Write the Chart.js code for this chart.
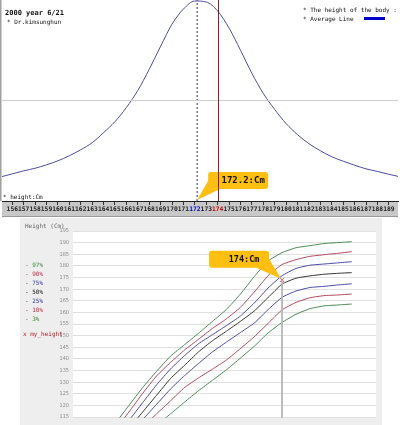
<!DOCTYPE html>
<html>
<head>
<meta charset="utf-8">
<script src="https://cdn.jsdelivr.net/npm/chart.js@4.4.1/dist/chart.umd.min.js"></script>
<style>
  html, body { margin: 0; padding: 0; background: #fff; overflow: hidden; }
  #c1 { position: absolute; left: 0; top: 0; }
  #c2 { position: absolute; left: 0; top: 218px; }
</style>
</head>
<body>
<canvas id="c1" width="400" height="217"></canvas>
<canvas id="c2" width="400" height="207"></canvas>
<script>
// --- top chart: distribution of body height ---
const heightCm = [155, 156, 157, 158, 159, 160, 161, 162, 163, 164, 165, 166, 167, 168, 169, 170, 171, 172,
  173, 174, 175, 176, 177, 178, 179, 180, 181, 182, 183, 184, 185, 186, 187, 188, 189, 190];
const bodyCurve = [0.12, 0.135, 0.15, 0.163, 0.18, 0.2, 0.225, 0.255, 0.29, 0.34, 0.395, 0.465, 0.55, 0.655,
  0.77, 0.88, 0.955, 0.995, 0.99, 0.945, 0.86, 0.75, 0.635, 0.535, 0.455, 0.385, 0.33, 0.285, 0.25, 0.22,
  0.198, 0.178, 0.16, 0.147, 0.133, 0.12];
const heightTicks = [156, 157, 158, 159, 160, 161, 162, 163, 164, 165, 166, 167, 168, 169, 170, 171, 172,
  173, 174, 175, 176, 177, 178, 179, 180, 181, 182, 183, 184, 185, 186, 187, 188, 189];
const avgHeight = 172.2;
const myHeight = 174;

// --- bottom chart: growth percentiles by age ---
const ages = [3, 4, 5, 6, 7, 8, 9, 10, 11, 12, 13, 14, 15, 16, 17, 18, 19, 20];
const p97 = [112.0, 119.9, 127.7, 134.7, 141.2, 146.1, 151.0, 156.1, 161.2, 167.8, 175.4, 182.1, 185.7, 187.8, 188.7, 189.6, 190.0, 190.4];
const p90 = [109.1, 117.1, 125.2, 132.7, 138.5, 143.8, 148.4, 153.1, 157.2, 162.1, 168.7, 175.8, 180.6, 182.7, 184.1, 184.8, 185.4, 186.1];
const p75 = [105.5, 113.4, 121.2, 128.9, 135.7, 141.4, 146.5, 150.4, 154.3, 158.4, 164.0, 170.5, 175.8, 178.9, 180.3, 180.8, 181.3, 181.8];
const p50 = [102.9, 110.0, 117.2, 124.4, 131.6, 137.2, 143.0, 147.8, 151.9, 156.1, 160.6, 166.4, 172.2, 174.7, 175.7, 176.4, 176.8, 177.1];
const p25 = [100.7, 107.3, 113.9, 120.5, 127.1, 132.8, 138.0, 143.0, 147.2, 151.3, 155.4, 161.2, 166.5, 169.2, 170.7, 171.2, 171.8, 172.3];
const p10 = [99.3, 105.0, 110.7, 116.4, 122.0, 127.7, 131.8, 135.6, 139.5, 144.4, 149.5, 155.3, 161.1, 164.3, 166.3, 167.2, 167.5, 167.9];
const p3 = [96.3, 101.4, 106.4, 111.4, 116.4, 121.4, 126.3, 130.8, 135.3, 140.3, 145.4, 151.2, 155.7, 159.2, 161.6, 162.8, 163.2, 163.6];
const gridTicks = [115, 120, 125, 130, 135, 140, 145, 150, 155, 160, 165, 170, 175, 180, 185, 190, 195];
const myAge = 15;

const MONO = '"DejaVu Sans Mono", monospace';
const NARROW = '"Liberation Sans Narrow", "DejaVu Sans Condensed", sans-serif';
const YELLOW = '#fcbf12';

function drawCallout(ctx, x, y, w, h, tri, tip, text, font) {
  ctx.save();
  ctx.fillStyle = YELLOW;
  ctx.beginPath();
  ctx.roundRect(x, y, w, h, 3);
  ctx.fill();
  ctx.beginPath();
  ctx.moveTo(tri[0][0], tri[0][1]);
  ctx.lineTo(tri[1][0], tri[1][1]);
  ctx.lineTo(tip[0], tip[1]);
  ctx.closePath();
  ctx.fill();
  ctx.fillStyle = '#111';
  ctx.font = font;
  ctx.textAlign = 'center';
  ctx.textBaseline = 'middle';
  ctx.fillText(text, x + w / 2 + 5, y + h / 2 + 0.5);
  ctx.restore();
}

const topDecor = {
  id: 'topDecor',
  beforeDraw(chart) {
    const { ctx, chartArea: a } = chart;
    ctx.save();
    ctx.fillStyle = '#c8c8c8';
    ctx.fillRect(a.left, a.bottom, a.right - a.left, 15);
    ctx.fillStyle = '#999';
    ctx.fillRect(a.left, a.bottom + 15, a.right - a.left, 1);
    ctx.fillStyle = '#a0a0a0';
    ctx.fillRect(0, 0, 1.5, a.bottom);
    ctx.restore();
  },
  afterDatasetsDraw(chart) {
    const { ctx, chartArea: a, scales } = chart;
    const tx = scales.x.getPixelForValue(avgHeight);
    const ty = a.bottom - 1;
    drawCallout(ctx, tx + 11, ty - 28, 60, 17, [[tx + 12, ty - 21], [tx + 24, ty - 11.5]], [tx, ty],
      avgHeight + ':Cm', 'bold 9px ' + MONO);
    // red line over the box
    const rx = scales.x.getPixelForValue(myHeight);
    ctx.save();
    ctx.strokeStyle = '#8b1c1c';
    ctx.lineWidth = 1;
    ctx.beginPath();
    ctx.moveTo(Math.round(rx) + 0.5, a.top);
    ctx.lineTo(Math.round(rx) + 0.5, a.bottom);
    ctx.stroke();
    ctx.restore();
  },
  afterDraw(chart) {
    const { ctx } = chart;
    ctx.save();
    ctx.fillStyle = '#111';
    ctx.font = 'bold 7px ' + MONO;
    ctx.fillText('2000 year 6/21', 5, 15);
    ctx.font = '6px ' + MONO;
    ctx.fillText('* Dr.kimsunghun', 7, 24);
    ctx.fillText('* The height of the body :', 303, 12);
    ctx.fillText('* Average Line', 303, 21);
    ctx.fillText('* height:Cm', 3, 199);
    ctx.fillStyle = '#0000cc';
    ctx.fillRect(364, 17, 21, 3);
    ctx.restore();
  }
};

new Chart(document.getElementById('c1'), {
  type: 'line',
  data: {
    datasets: [
      {
        data: [{ x: heightCm[0], y: 0.5 }, { x: heightCm[heightCm.length - 1], y: 0.5 }],
        borderColor: '#cfcfcf', borderWidth: 1, pointRadius: 0
      },
      {
        data: heightCm.map((x, i) => ({ x, y: bodyCurve[i] })),
        borderColor: '#4d4d9f', borderWidth: 1, pointRadius: 0,
        cubicInterpolationMode: 'monotone'
      },
      {
        data: [{ x: avgHeight, y: 0 }, { x: avgHeight, y: 1 }],
        borderColor: '#2b2b86', borderWidth: 1, borderDash: [2, 2], pointRadius: 0
      }
    ]
  },
  options: {
    responsive: false,
    animation: false,
    layout: { padding: { left: 2, right: 2, top: 0, bottom: 1 } },
    plugins: { legend: { display: false }, tooltip: { enabled: false } },
    scales: {
      x: {
        type: 'linear',
        min: 155.1,
        max: 189.8,
        afterBuildTicks: s => { s.ticks = heightTicks.map(v => ({ value: v })); },
        afterFit: s => { s.height = 15; },
        border: { display: true, color: '#222', width: 1 },
        grid: { drawOnChartArea: false, drawTicks: true, tickLength: 4, color: '#333' },
        ticks: {
          autoSkip: false, maxRotation: 0, minRotation: 0, padding: 1,
          font: { family: MONO, size: 6.3, weight: 'bold' },
          color: c => c.tick.value === 172 ? '#0000cc' : (c.tick.value === 174 ? '#cc0000' : '#222'),
          callback: v => String(v)
        }
      },
      y: { type: 'linear', display: false, min: 0, max: 1 }
    }
  },
  plugins: [topDecor]
});

const bottomDecor = {
  id: 'bottomDecor',
  beforeDraw(chart) {
    const { ctx, chartArea: a } = chart;
    ctx.save();
    ctx.fillStyle = '#eeeeee';
    ctx.fillRect(20, 0, 362, chart.height);
    ctx.fillStyle = '#ffffff';
    ctx.fillRect(a.left, a.top, a.right - a.left, a.bottom - a.top);
    ctx.restore();
  },
  afterDatasetsDraw(chart) {
    const { ctx, scales } = chart;
    const tx = scales.x.getPixelForValue(myAge);
    const ty = scales.y.getPixelForValue(myHeight);
    drawCallout(ctx, tx - 73, ty - 29, 60, 17, [[tx - 26, ty - 12], [tx - 13, ty - 21]], [tx - 1, ty - 1],
      myHeight + ':Cm', 'bold 8.5px ' + MONO);
  },
  afterDraw(chart) {
    const { ctx } = chart;
    ctx.save();
    ctx.font = '6px ' + MONO;
    ctx.fillStyle = '#666';
    ctx.fillText('Height (Cm)', 25, 10);
    const items = [['- 97%', '#3a843a'], ['- 90%', '#c02a44'], ['- 75%', '#3535a5'], ['- 50%', '#111'],
      ['- 25%', '#3535a5'], ['- 10%', '#c02a44'], ['- 3%', '#3a843a']];
    items.forEach((it, i) => {
      ctx.fillStyle = it[1];
      ctx.fillText(it[0], 25, 49 + i * 9);
    });
    ctx.fillStyle = '#b0202a';
    ctx.fillText('x my_height', 23, 118);
    ctx.restore();
  }
};

const lineStyle = (data, color) => ({
  data: ages.map((x, i) => ({ x, y: data[i] })),
  borderColor: color, borderWidth: 1, pointRadius: 0, tension: 0.15
});

new Chart(document.getElementById('c2'), {
  type: 'line',
  data: {
    datasets: [
      {
        data: [{ x: myAge, y: myHeight }, { x: myAge, y: 100 }],
        borderColor: '#b4b4b4', borderWidth: 1, pointRadius: 0
      },
      lineStyle(p97, '#4b8a55'),
      lineStyle(p90, '#b3475c'),
      lineStyle(p75, '#4a4aa6'),
      lineStyle(p50, '#333333'),
      lineStyle(p25, '#4a4aa6'),
      lineStyle(p10, '#b3475c'),
      lineStyle(p3, '#4b8a55'),
      {
        type: 'scatter',
        data: [{ x: myAge, y: myHeight }],
        pointStyle: 'crossRot', pointRadius: 3, borderWidth: 1,
        borderColor: '#c8506a', backgroundColor: '#c8506a'
      }
    ]
  },
  options: {
    responsive: false,
    animation: false,
    layout: { padding: { left: 0, right: 24, top: 13, bottom: 0 } },
    plugins: { legend: { display: false }, tooltip: { enabled: false } },
    scales: {
      x: { type: 'linear', display: false, min: 0, max: 21.74 },
      y: {
        type: 'linear',
        min: 114.73,
        max: 195,
        afterBuildTicks: s => { s.ticks = gridTicks.map(v => ({ value: v })); },
        afterFit: s => { s.width = 73; },
        border: { display: false },
        grid: { color: '#e0e0e0', drawTicks: false },
        ticks: {
          padding: 4,
          font: { family: NARROW, size: 5.5 },
          color: '#8a8a8a',
          callback: v => String(v)
        }
      }
    }
  },
  plugins: [bottomDecor]
});
</script>
</body>
</html>
